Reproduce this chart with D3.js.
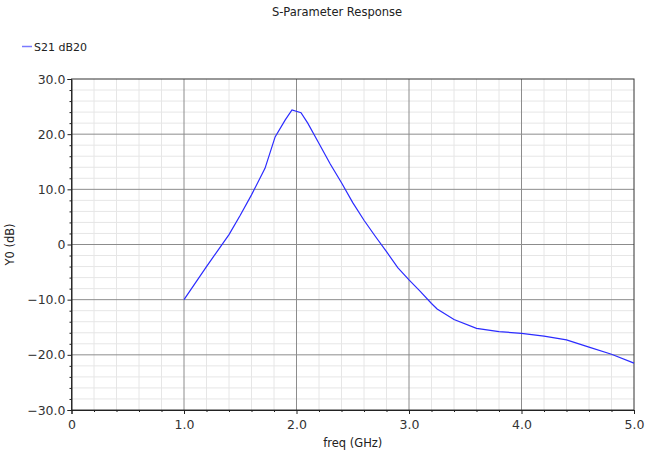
<!DOCTYPE html>
<html>
<head>
<meta charset="utf-8">
<script src="https://cdn.jsdelivr.net/npm/d3@7"></script>
<style>
  body { margin: 0; background: #fff; }
  svg { font-family: "DejaVu Sans", sans-serif; }
</style>
</head>
<body>
<div id="canvas"></div>
<script>
// S21 response
const freq = [1.0, 1.1, 1.2, 1.3, 1.4, 1.5, 1.6, 1.72, 1.81, 1.9, 1.96, 2.04, 2.1, 2.2, 2.3, 2.4, 2.5,
  2.6, 2.7, 2.8, 2.9, 3.0, 3.1, 3.2, 3.25, 3.4, 3.6, 3.8, 4.0, 4.2, 4.4, 4.6, 4.8, 5.0];
const s21 = [-10, -7.0, -4.0, -1.1, 1.8, 5.3, 9.0, 13.8, 19.5, 22.6, 24.4, 23.9, 22.0, 18.3, 14.6, 11.2, 7.6,
  4.4, 1.5, -1.3, -4.2, -6.4, -8.5, -10.7, -11.7, -13.6, -15.2, -15.8, -16.1, -16.6, -17.3, -18.6, -19.9, -21.5];
const xTicks = [0, 1, 2, 3, 4, 5];
const yTicks = [-30, -20, -10, 0, 10, 20, 30];

const W = 646, H = 454;
const margin = { top: 79, right: 12, bottom: 44, left: 71.5 };
const width = W - margin.left - margin.right;
const height = H - margin.top - margin.bottom;

const svg = d3.select("#canvas").append("svg")
  .attr("width", W).attr("height", H);

svg.append("text")
  .attr("x", 337).attr("y", 16)
  .attr("text-anchor", "middle")
  .attr("font-size", 11.5).attr("fill", "#222")
  .text("S-Parameter Response");

// legend
svg.append("line")
  .attr("x1", 22).attr("x2", 32).attr("y1", 46.5).attr("y2", 46.5)
  .attr("stroke", "#7a7aff").attr("stroke-width", 1.5);
svg.append("text")
  .attr("x", 34).attr("y", 50.5)
  .attr("font-size", 11).attr("fill", "#222")
  .text("S21 dB20");

const g = svg.append("g")
  .attr("transform", "translate(" + margin.left + "," + margin.top + ")");

const x = d3.scaleLinear().domain([0, 5]).range([0, width]);
const y = d3.scaleLinear().domain([-30, 30]).range([height, 0]);

// minor grid
const xMinor = d3.range(0, 5.001, 0.2).filter(v => Math.abs(v - Math.round(v)) > 1e-6);
const yMinor = d3.range(-30, 30.001, 2).filter(v => v % 10 !== 0);

g.selectAll(".xminor").data(xMinor).enter().append("line")
  .attr("x1", d => x(d)).attr("x2", d => x(d))
  .attr("y1", 0).attr("y2", height)
  .attr("stroke", "#e6e6e6").attr("stroke-width", 1);
g.selectAll(".yminor").data(yMinor).enter().append("line")
  .attr("x1", 0).attr("x2", width)
  .attr("y1", d => y(d)).attr("y2", d => y(d))
  .attr("stroke", "#e6e6e6").attr("stroke-width", 1);

// major grid
g.selectAll(".xmajor").data(xTicks.slice(1, -1)).enter().append("line")
  .attr("x1", d => x(d)).attr("x2", d => x(d))
  .attr("y1", 0).attr("y2", height)
  .attr("stroke", "#8c8c8c").attr("stroke-width", 1);
g.selectAll(".ymajor").data(yTicks.slice(1, -1)).enter().append("line")
  .attr("x1", 0).attr("x2", width)
  .attr("y1", d => y(d)).attr("y2", d => y(d))
  .attr("stroke", "#8c8c8c").attr("stroke-width", 1);

// frame
g.append("rect")
  .attr("width", width).attr("height", height)
  .attr("fill", "none").attr("stroke", "#333").attr("stroke-width", 1);

// axes
const fmt = d => d === 0 ? "0" : d3.format(".1f")(d);

g.append("g").attr("transform", "translate(0," + height + ")")
  .call(d3.axisBottom(x).tickValues(xTicks).tickFormat(fmt).tickSize(4).tickPadding(6));
g.append("g").attr("transform", "translate(0," + height + ")")
  .call(d3.axisBottom(x).tickValues(xMinor).tickFormat("").tickSize(2))
  .select(".domain").remove();

g.append("g")
  .call(d3.axisLeft(y).tickValues(yTicks).tickFormat(fmt).tickSize(4).tickPadding(2));
g.append("g")
  .call(d3.axisLeft(y).tickValues(yMinor).tickFormat("").tickSize(2))
  .select(".domain").remove();

g.selectAll(".domain").attr("stroke", "#222");
g.selectAll(".tick line").attr("stroke", "#222");
g.selectAll(".tick text").attr("font-size", 12.5).attr("fill", "#333")
  .attr("font-family", "DejaVu Sans, sans-serif");

svg.append("text")
  .attr("x", margin.left + width / 2).attr("y", 447)
  .attr("text-anchor", "middle").attr("font-size", 11.5).attr("fill", "#222")
  .text("freq (GHz)");
svg.append("text")
  .attr("transform", "translate(14," + (margin.top + height / 2) + ") rotate(-90)")
  .attr("text-anchor", "middle").attr("font-size", 11.5).attr("fill", "#222")
  .text("Y0 (dB)");

// curve
const line = d3.line().x((d, i) => x(freq[i])).y(d => y(d));
g.append("path").datum(s21)
  .attr("d", line)
  .attr("fill", "none").attr("stroke", "#2b2bff").attr("stroke-width", 1.2);
</script>
</body>
</html>
